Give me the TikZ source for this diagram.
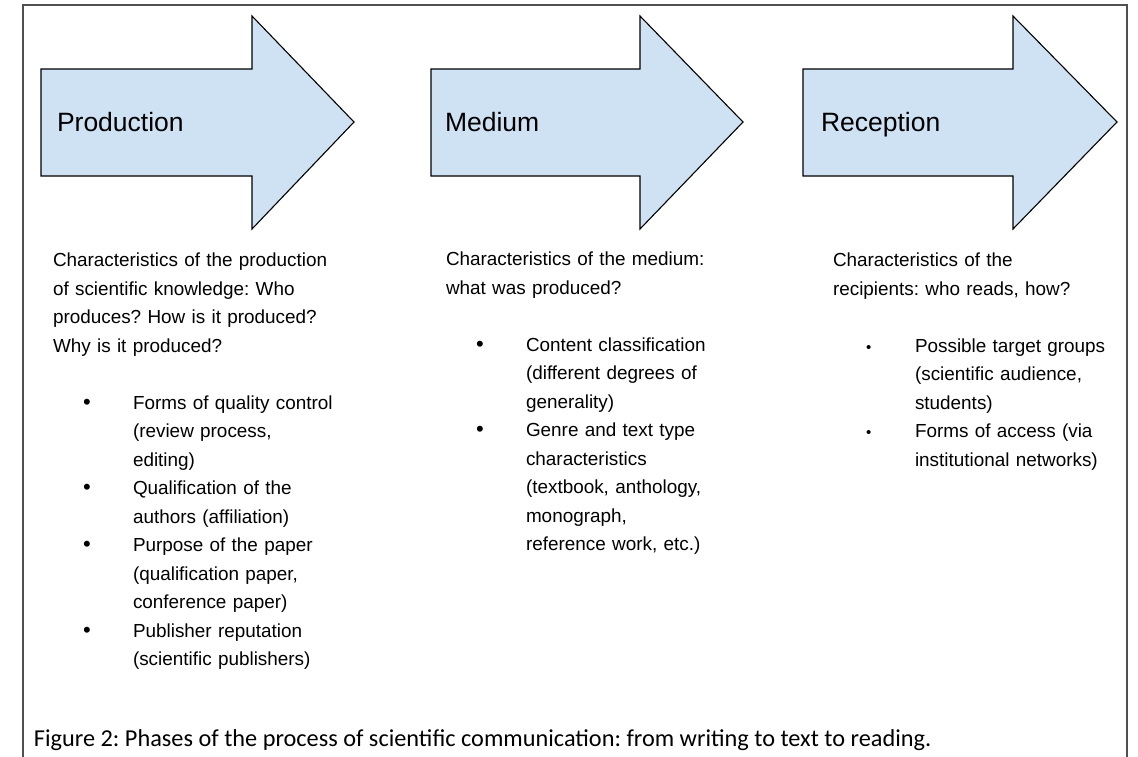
\documentclass[tikz,border=0pt]{standalone}
\usepackage{fontspec}
\setmainfont{Liberation Sans}
\newfontfamily\capfont{Carlito}
\usepackage{tikz}
\frenchspacing

\definecolor{arrowblue}{HTML}{CFE2F3}
\definecolor{framegray}{HTML}{505050}

% bullet paragraph: text indented, bullet hung in the margin
\newcommand{\bitem}{\par\leftskip=80pt\noindent\llap{\makebox[50pt][l]{\fontsize{22}{28.5}\selectfont •}}}
\newcommand{\sitem}{\par\leftskip=82pt\noindent\llap{\makebox[49pt][l]{\fontsize{15}{28.5}\selectfont •}}}

\begin{document}
\begin{tikzpicture}[x=1pt, y=-1pt, outer sep=0pt]

\tikzstyle{phase}=[draw=black, line width=1.1pt, fill=arrowblue, line join=miter]
\tikzstyle{title}=[anchor=base west, inner sep=0pt, font=\fontsize{26.5}{30}\selectfont]
\tikzstyle{coltext}=[anchor=north west, inner sep=0pt, text width=310pt, font=\fontsize{18.9}{28.5}\selectfont, execute at begin node=\raggedright]

\useasboundingbox (0,0) rectangle (1138,756);
\draw[framegray, line width=1.2pt] (23,760) -- (23,5) -- (1127,5) -- (1127,760);

% the three phase arrows
\draw[phase] (41,69) -- (252,69) -- (252,16) -- (354,122) -- (252,229) -- (252,176) -- (41,176) -- cycle;
\draw[phase] (431,69) -- (640,69) -- (640,16) -- (743,122) -- (640,229) -- (640,176) -- (431,176) -- cycle;
\draw[phase] (803,69) -- (1013,69) -- (1013,16) -- (1117,122) -- (1013,229) -- (1013,176) -- (803,176) -- cycle;

\node[title] (prod) at (57,131) {Production};
\node[title] (med) at (445,131) {Medium};
\node[title] (rec) at (821,131) {Reception};

\node[coltext] (prodtext) at (53,253) {Characteristics of the production\\ of scientific knowledge: Who\\ produces? How is it produced?\\ Why is it produced?\par\mbox{}
\bitem Forms of quality control\\ (review process,\\ editing)
\bitem Qualification of the\\ authors (affiliation)
\bitem Purpose of the paper\\ (qualification paper,\\ conference paper)
\bitem Publisher reputation\\ (scientific publishers)\par};

\node[coltext] (medtext) at (446,252) {Characteristics of the medium:\\ what was produced?\par\mbox{}
\bitem Content classification\\ (different degrees of\\ generality)
\bitem Genre and text type\\ characteristics\\ (textbook, anthology,\\ monograph,\\ reference work, etc.)\par};

\node[coltext] (rectext) at (833,253) {Characteristics of the\\ recipients: who reads, how?\par\mbox{}
\sitem Possible target groups\\ (scientific audience,\\ students)
\sitem Forms of access (via\\ institutional networks)\par};

\node[anchor=base west, inner sep=0pt, font=\capfont\fontsize{24.3}{27}\selectfont] (caption) at (34,746) {Figure 2: Phases of the process of scientific communication: from writing to text to reading.};

\end{tikzpicture}
\end{document}
